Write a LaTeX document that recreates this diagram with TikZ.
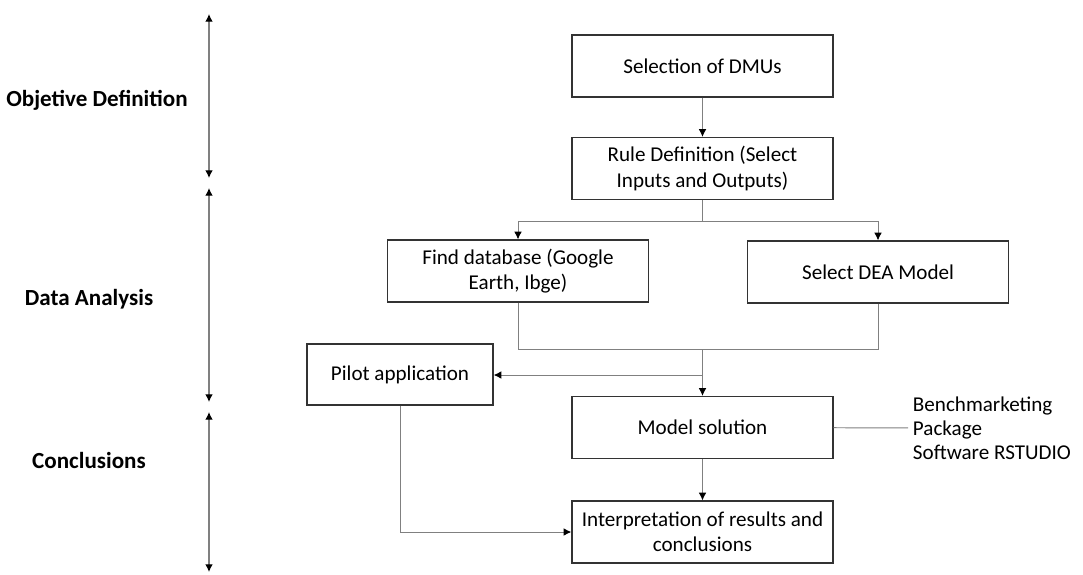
\documentclass[tikz,border=0pt]{standalone}
\usepackage{fontspec}
\setmainfont{Carlito}
\usetikzlibrary{arrows.meta}

\begin{document}
\begin{tikzpicture}[x=0.025cm,y=-0.025cm,
  every node/.style={font=\fontsize{15}{18}\selectfont},
  StepBox/.style={draw=black!80, line width=0.9pt, align=center, inner sep=2pt,
    minimum width=6.525cm, minimum height=1.55cm},
  Link/.style={draw=black!50, line width=0.7pt},
  Tip/.style={-{Latex[length=5.5pt,width=5.5pt,color=black]}},
  Phase/.style={draw=black!50, line width=0.9pt,
    {Latex[length=5.5pt,width=5.5pt,color=black]}-{Latex[length=5.5pt,width=5.5pt,color=black]}},
  PhaseLabel/.style={font=\fontsize{16.4}{18}\selectfont\bfseries}]
\useasboundingbox (0,0) rectangle (1083,574);

% flow boxes
\node[StepBox] (dmu) at (702.5,66) {Selection of DMUs};
\node[StepBox] (rule) at (702.5,168.5) {Rule Definition (Select\\Inputs and Outputs)};
\node[StepBox] (find) at (518,271) {Find database (Google\\Earth, Ibge)};
\node[StepBox] (dea) at (878,272) {Select DEA Model};
\node[StepBox, minimum width=4.65cm, minimum height=1.525cm] (pilot) at (400,374.5) {Pilot application};
\node[StepBox] (model) at (702.5,427.5) {Model solution};
\node[StepBox] (interp) at (702.5,532) {Interpretation of results and\\conclusions};
\node[anchor=west, align=left, font=\fontsize{15}{17}\selectfont] (pkg) at (908,428) {Benchmarketing\\Package\\Software RSTUDIO};

% phases
\node[PhaseLabel] (obj) at (97,100) {Objetive Definition};
\node[PhaseLabel] (data) at (89,299) {Data Analysis};
\node[PhaseLabel] (concl) at (89,460) {Conclusions};
\foreach \a/\b [count=\i] in {14/178,188/402,412/572}{
  \coordinate (top\i) at (209,\a);
  \coordinate (bot\i) at (209,\b);
  \draw[Phase] (top\i) -- (bot\i);
}

% connectors
\coordinate (split) at (702.5,221);
\coordinate (merge) at (702.5,349);
\coordinate (tap) at (702.5,375);
\draw[Link,Tip] (dmu) -- (rule);
\draw[Link] (rule) -- (split);
\draw[Link,Tip] (split) -| (find);
\draw[Link,Tip] (split) -| (dea);
\draw[Link] (find) |- (merge);
\draw[Link] (dea) |- (merge);
\draw[Link,Tip] (merge) -- (model);
\draw[Link,Tip] (tap) -- (tap -| pilot.east);
\draw[Link,Tip] (pilot) |- (interp);
\draw[Link,Tip] (model) -- (interp);
\draw[Link] (model) -- (pkg);
\end{tikzpicture}
\end{document}
